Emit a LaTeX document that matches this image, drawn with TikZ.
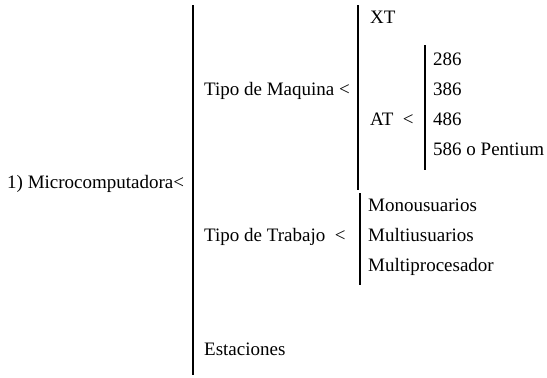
\documentclass[tikz,border=0pt]{standalone}
\usepackage{fontspec}
\setmainfont{Liberation Serif}
\begin{document}
\begin{tikzpicture}[x=1pt,y=-1pt,
  lbl/.style={inner sep=0pt, anchor=mid west, font=\fontsize{19}{22}\selectfont},
  brk/.style={line width=1.3pt, black}]
\useasboundingbox (0,0) rectangle (547,378);
% brackets
\coordinate (b1t) at (193,5);   \coordinate (b1b) at (193,375);
\coordinate (b2t) at (358,5);   \coordinate (b2b) at (358,190);
\coordinate (b3t) at (425,45);  \coordinate (b3b) at (425,170);
\coordinate (b4t) at (360,193); \coordinate (b4b) at (360,285);
\draw[brk] (b1t) -- (b1b);
\draw[brk] (b2t) -- (b2b);
\draw[brk] (b3t) -- (b3b);
\draw[brk] (b4t) -- (b4b);
% labels
\node[lbl] (micro) at (7,186) {1) Microcomputadora<};
\node[lbl] (maq) at (204,93) {Tipo de Maquina <};
\node[lbl] (xt) at (370,21) {XT};
\node[lbl] (at) at (370,123) {AT\ \ <};
\node[lbl] (p2) at (433,63) {286};
\node[lbl] (p3) at (433,93) {386};
\node[lbl] (p4) at (433,123) {486};
\node[lbl] (p5) at (433,153) {586 o Pentium};
\node[lbl] (trab) at (204,239) {Tipo de Trabajo\ \ <};
\node[lbl] (mono) at (368,209) {Monousuarios};
\node[lbl] (multi) at (368,239) {Multiusuarios};
\node[lbl] (mproc) at (368,269) {Multiprocesador};
\node[lbl] (est) at (204,353) {Estaciones};
\end{tikzpicture}
\end{document}
